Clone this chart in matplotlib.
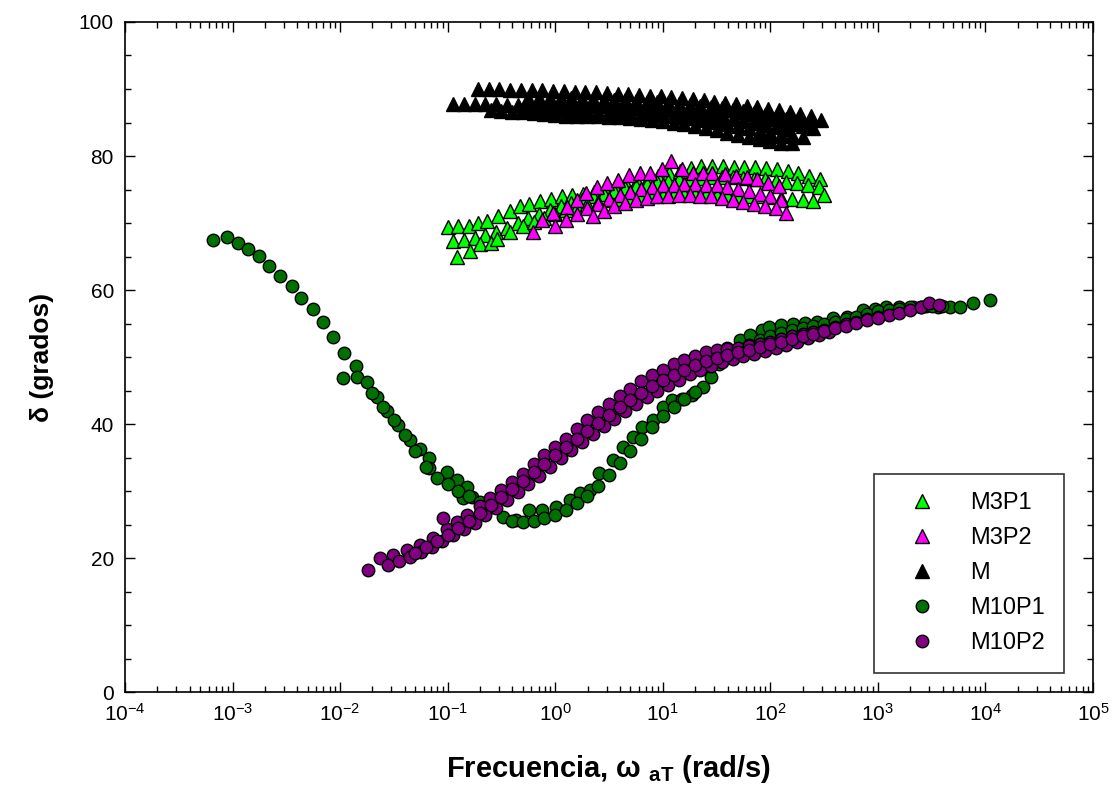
import numpy as np
import matplotlib
matplotlib.use("Agg")
import matplotlib.pyplot as plt

plt.rcParams['font.family'] = ['Liberation Sans', 'DejaVu Sans']
plt.rcParams['mathtext.fontset'] = 'custom'
plt.rcParams['mathtext.rm'] = 'Liberation Sans'
plt.rcParams['mathtext.bf'] = 'Liberation Sans:bold'

# --- data: log10(omega aT) and delta (degrees), one list pair per sweep row ---

# M3P1 (lime triangles)
m3p1_a_lw = [-1.0, -0.9, -0.8, -0.72, -0.63, -0.53, -0.42, -0.33, -0.24, -0.14, -0.04, 0.06, 0.16, 0.26, 0.36,
             0.46, 0.56, 0.66, 0.76, 0.86, 0.96, 1.06, 1.16, 1.26, 1.36, 1.46, 1.56, 1.66, 1.76, 1.86, 1.96,
             2.06, 2.16, 2.26, 2.36, 2.46]
m3p1_a_d = [69.4, 69.5, 69.6, 70.0, 70.3, 71.0, 71.8, 72.6, 72.9, 73.3, 73.6, 74.0, 74.2, 74.4, 74.6,
            75.0, 75.4, 75.8, 76.2, 76.6, 77.0, 77.4, 77.8, 78.2, 78.5, 78.5, 78.5, 78.4, 78.4, 78.3, 78.2,
            78.0, 77.8, 77.5, 77.0, 76.5]
m3p1_b_lw = [-0.95, -0.85, -0.75, -0.65, -0.55, -0.45, -0.35, -0.25, -0.15, -0.05, 0.05, 0.15, 0.25, 0.35,
             0.45, 0.55, 0.65, 0.75, 0.85, 0.95, 1.05, 1.15, 1.25, 1.35, 1.45, 1.55, 1.65, 1.75, 1.85, 1.95,
             2.05, 2.15, 2.25, 2.35, 2.45]
m3p1_b_d = [67.3, 67.5, 67.8, 68.2, 68.7, 69.3, 70.0, 70.7, 71.3, 71.9, 72.5, 73.0, 73.5, 74.0,
            74.4, 74.8, 75.2, 75.5, 75.8, 76.1, 76.3, 76.5, 76.6, 76.7, 76.8, 76.8, 76.8, 76.7, 76.6, 76.5,
            76.3, 76.1, 75.9, 75.6, 75.3]
m3p1_c_lw = [-0.91, -0.79, -0.70, -0.60, -0.54, -0.42, -0.30, -0.2, -0.1, 0.0, 0.1, 0.2, 0.3, 0.4, 0.5,
             0.6, 0.7, 0.8, 0.9, 1.0, 1.1, 1.2, 1.3, 1.4, 1.5, 1.6, 1.7, 1.8, 1.9, 2.0, 2.1, 2.2, 2.3,
             2.4, 2.5]
m3p1_c_d = [65.0, 65.8, 66.9, 67.0, 67.6, 68.7, 69.6, 70.2, 70.8, 71.4, 72.0, 72.4, 72.8, 73.1, 73.4,
            73.6, 73.8, 74.0, 74.1, 74.2, 74.3, 74.3, 74.3, 74.3, 74.2, 74.2, 74.1, 74.0, 74.0, 73.9, 73.8,
            73.6, 73.4, 73.3, 74.2]

# M3P2 (magenta triangles)
m3p2_a_lw = [-0.21, -0.12, -0.02, 0.11, 0.2, 0.29, 0.39, 0.48, 0.58, 0.69, 0.79, 0.88, 0.99, 1.08, 1.18,
             1.28, 1.37, 1.46, 1.58, 1.68, 1.78, 1.88, 1.98, 2.08]
m3p2_a_d = [68.7, 70.4, 71.5, 72.4, 73.4, 74.5, 75.4, 76.0, 76.4, 77.2, 77.5, 77.5, 78.0, 79.3, 78.0,
            77.5, 77.5, 77.5, 77.3, 77.0, 76.8, 76.5, 76.0, 75.5]
m3p2_b_lw = [0.0, 0.1, 0.2, 0.3, 0.4, 0.5, 0.6, 0.7, 0.8, 0.9, 1.0, 1.1, 1.2, 1.3, 1.4, 1.5, 1.6, 1.7,
             1.8, 1.9, 2.0, 2.1]
m3p2_b_d = [69.5, 70.5, 71.4, 72.2, 72.9, 73.6, 74.2, 74.7, 75.1, 75.4, 75.6, 75.7, 75.8, 75.8, 75.7,
            75.6, 75.4, 75.1, 74.8, 74.4, 74.0, 73.5]
m3p2_c_lw = [0.35, 0.45, 0.55, 0.65, 0.75, 0.85, 0.95, 1.05, 1.15, 1.25, 1.35, 1.45, 1.55, 1.65, 1.75,
             1.85, 1.95, 2.05, 2.15]
m3p2_c_d = [71.0, 71.8, 72.5, 73.0, 73.4, 73.7, 74.0, 74.1, 74.2, 74.2, 74.1, 74.0, 73.8, 73.5, 73.2,
            72.9, 72.6, 72.3, 71.5]

# M (black triangles)
m_a_lw = [-0.72, -0.62, -0.52, -0.42, -0.32, -0.22, -0.12, -0.02, 0.08, 0.18, 0.28, 0.38, 0.48, 0.58, 0.68,
          0.78, 0.88, 0.98, 1.08, 1.18, 1.28, 1.38, 1.48, 1.58, 1.68, 1.78, 1.88, 1.98, 2.08, 2.18, 2.28,
          2.38, 2.47]
m_a_d = [90.0, 90.0, 90.0, 89.9, 89.9, 89.8, 89.8, 89.7, 89.7, 89.6, 89.5, 89.5, 89.4, 89.3, 89.2,
         89.1, 89.0, 88.9, 88.8, 88.6, 88.5, 88.3, 88.1, 87.9, 87.7, 87.5, 87.3, 87.0, 86.8, 86.5, 86.2,
         85.9, 85.3]
m_b_lw = [-0.95, -0.85, -0.75, -0.65, -0.55, -0.45, -0.35, -0.25, -0.15, -0.05, 0.05, 0.15, 0.25, 0.35,
          0.45, 0.55, 0.65, 0.75, 0.85, 0.95, 1.05, 1.15, 1.25, 1.35, 1.45, 1.55, 1.65, 1.75, 1.85, 1.95,
          2.05, 2.15]
m_b_d = [87.8, 87.8, 87.8, 87.7, 87.7, 87.6, 87.6, 87.5, 87.5, 87.5, 87.5, 87.5, 87.5, 87.4,
         87.4, 87.3, 87.2, 87.1, 87.0, 86.9, 86.8, 86.6, 86.4, 86.2, 86.0, 85.8, 85.5, 85.2, 84.9, 84.6,
         84.3, 84.0]
m_c_lw = [-0.6, -0.5, -0.4, -0.3, -0.2, -0.1, 0.0, 0.1, 0.2, 0.3, 0.4, 0.5, 0.6, 0.7, 0.8, 0.9, 1.0,
          1.1, 1.2, 1.3, 1.4, 1.5, 1.6, 1.7, 1.8, 1.9, 2.0, 2.1, 2.2]
m_c_d = [86.8, 86.7, 86.6, 86.5, 86.4, 86.2, 86.1, 86.0, 86.0, 85.9, 85.9, 85.8, 85.8, 85.6, 85.5,
         85.4, 85.2, 85.0, 84.8, 84.5, 84.2, 83.9, 83.5, 83.2, 82.8, 82.5, 82.2, 82.0, 82.0]
m_d_lw = [1.5, 1.6, 1.7, 1.8, 1.9, 2.0, 2.1, 2.2, 2.3, 2.4, 1.9, 2.0, 2.1, 2.2, 2.3]
m_d_d = [87.0, 86.8, 86.5, 86.2, 85.8, 85.5, 85.1, 84.8, 84.5, 84.2, 83.5, 83.3, 83.0, 83.2, 82.8]
m_e_lw = [-0.25, -0.15, -0.05, 0.05, 0.15, 0.25, 0.35, 0.45, 0.55, 0.65, 0.75, 0.85, 0.95, 1.05, 1.15,
          1.25, 1.35, 1.45, 1.55, 1.65, 1.75, 1.85, 1.95, 2.05, 2.15, 2.25, 2.35]
m_e_d = [88.7, 88.7, 88.6, 88.6, 88.6, 88.5, 88.5, 88.4, 88.4, 88.3, 88.2, 88.1, 88.0, 87.9, 87.8,
         87.6, 87.5, 87.3, 87.1, 86.9, 86.7, 86.4, 86.1, 85.8, 85.5, 85.2, 84.9]
m_f_lw = [-0.3, -0.2, -0.1, 0.0, 0.1, 0.2, 0.3, 0.4, 0.5, 0.6, 0.7, 0.8, 0.9, 1.0, 1.1, 1.2, 1.3, 1.4,
          1.5, 1.6, 1.7, 1.8, 1.9, 2.0, 2.1]
m_f_d = [87.0, 86.9, 86.9, 86.8, 86.8, 86.7, 86.7, 86.6, 86.6, 86.5, 86.4, 86.3, 86.2, 86.1, 86.0, 85.8,
         85.6, 85.4, 85.1, 84.8, 84.5, 84.2, 83.8, 83.5, 83.2]

# M10P1 (dark green circles)
m10p1_a_lw = [-3.18, -3.05, -2.95, -2.86, -2.75, -2.66, -2.56, -2.45, -2.36, -2.25, -2.16, -2.07, -1.96,
              -1.85, -1.97, -1.84, -1.75, -1.66, -1.56, -1.46, -1.35, -1.26, -1.17, -1.17, -1.01, -0.91,
              -0.82, -0.86, -0.77]
m10p1_a_d = [67.5, 67.9, 67.0, 66.1, 65.1, 63.6, 62.1, 60.6, 58.8, 57.2, 55.2, 53.0, 50.6,
             48.7, 46.9, 47.0, 46.3, 44.0, 41.9, 39.9, 37.6, 36.3, 34.9, 33.4, 32.8, 31.6,
             30.6, 29.0, 29.1]
m10p1_b_lw = [-1.70, -1.60, -1.50, -1.40, -1.30, -1.20, -1.10, -1.0, -0.9, -0.8, -0.7, -0.6]
m10p1_b_d = [44.6, 42.6, 40.6, 38.4, 36.0, 33.6, 32.0, 31.0, 30.0, 29.2, 28.4, 27.6]
m10p1_c_lw = [-0.60, -0.49, -0.36, -0.24, -0.12, 0.01, 0.14, 0.23, 0.32, 0.41, 0.54, 0.63, 0.72, 0.81,
              0.91, 1.0, 1.09, 1.18, 1.27, 1.37, 1.45, 1.52, 1.6, 1.72, 1.81, 1.92, 1.99, 2.1, 2.21, 2.32,
              2.43, 2.58, 2.71, 2.86, 2.97, 3.08, 3.2, 3.33, 3.45, 3.56, 3.67, 3.76, 3.88, 4.04]
m10p1_c_d = [28.0, 26.1, 25.7, 27.2, 27.2, 27.6, 28.7, 29.7, 30.1, 32.7, 34.6, 36.6, 38.0, 39.6,
             40.6, 42.5, 43.6, 43.8, 44.3, 45.5, 47.0, 49.0, 51.3, 52.5, 53.3, 54.0, 54.5, 54.8, 55.0, 55.1,
             55.2, 55.8, 56.0, 57.0, 57.2, 57.4, 57.5, 57.5, 57.6, 57.5, 57.5, 57.5, 58.0, 58.5]
m10p1_d_lw = [-0.40, -0.30, -0.20, -0.10, 0.0, 0.1, 0.2, 0.3, 0.4, 0.5, 0.6, 0.7, 0.8, 0.9, 1.0, 1.1,
              1.2, 1.3, 1.6, 1.7, 1.8, 1.9, 2.0, 2.1, 2.2, 2.3, 2.4, 2.5, 2.6, 2.7, 2.8, 2.9, 3.0, 3.1,
              3.2, 3.3, 3.4, 3.5, 3.6]
m10p1_d_d = [25.6, 25.4, 25.6, 25.9, 26.4, 27.2, 28.2, 29.3, 30.8, 32.4, 34.2, 36.0, 37.8, 39.6, 41.2, 42.6,
             43.8, 44.8, 50.0, 51.0, 51.8, 52.5, 53.1, 53.6, 54.0, 54.3, 54.7, 55.0, 55.3, 55.6, 56.0, 56.4,
             56.8, 57.0, 57.2, 57.4, 57.5, 57.6, 57.6]

# M10P2 (purple circles)
m10p2_a_lw = [-1.74, -1.63, -1.51, -1.38, -1.26, -1.14, -1.01, -0.91, -0.82, -0.70, -0.61, -0.50, -0.40,
              -0.30, -0.20, -0.10, 0.0, 0.1, 0.2, 0.3, 0.4, 0.5, 0.6, 0.7, 0.8, 0.9, 1.0, 1.1, 1.2, 1.3,
              1.4, 1.5, 1.6, 1.7, 1.8, 1.9, 2.0, 2.1, 2.2, 2.3, 2.4, 2.5, 2.6, 2.7, 2.8, 2.9, 3.0, 3.1,
              3.2, 3.3, 3.4, 3.48, 3.57, -1.04]
m10p2_a_d = [18.2, 20.0, 20.4, 21.2, 21.9, 23.0, 24.4, 25.4, 26.4, 27.7, 29.0, 30.2, 31.4,
             32.6, 34.0, 35.4, 36.6, 37.8, 39.2, 40.6, 41.8, 43.0, 44.2, 45.3, 46.4, 47.3, 48.1, 48.9, 49.6,
             50.2, 50.7, 51.0, 51.2, 51.4, 51.7, 52.0, 52.3, 52.7, 53.1, 53.5, 53.8, 54.1, 54.5, 54.9,
             55.3, 55.7, 56.0, 56.3, 56.6, 57.0, 57.5, 58.0, 57.8, 26.0]
m10p2_b_lw = [-1.55, -1.45, -1.35, -1.25, -1.15, -1.05, -0.95, -0.85, -0.75, -0.65, -0.55, -0.45, -0.35,
              -0.25, -0.15, -0.05, 0.05, 0.15, 0.25, 0.35, 0.45, 0.55, 0.65, 0.75, 0.85, 0.95, 1.05, 1.15,
              1.25, 1.35, 1.45, 1.55, 1.65, 1.75, 1.85, 1.95, 2.05, 2.15, 2.25, 2.35, 2.45, 2.55]
m10p2_b_d = [19.0, 19.6, 20.2, 20.9, 21.6, 22.5, 23.4, 24.3, 25.3, 26.4, 27.5, 28.7, 29.9,
             31.1, 32.3, 33.6, 34.9, 36.1, 37.3, 38.5, 39.7, 40.8, 41.9, 43.0, 44.0, 44.9, 45.8, 46.6,
             47.4, 48.1, 48.7, 49.2, 49.7, 50.1, 50.5, 50.9, 51.3, 51.8, 52.3, 52.8, 53.3, 53.7]
m10p2_c_lw = [-1.3, -1.2, -1.1, -1.0, -0.9, -0.8, -0.7, -0.6, -0.5, -0.4, -0.3, -0.2, -0.1, 0.0, 0.1, 0.2,
              0.3, 0.4, 0.5, 0.6, 0.7, 0.8, 0.9, 1.0, 1.1, 1.2, 1.3, 1.4, 1.5, 1.6, 1.7, 1.8, 1.9, 2.0,
              2.1, 2.2, 2.3, 2.4, 2.5, 2.6, 2.7, 2.8, 2.9, 3.0]
m10p2_c_d = [20.8, 21.6, 22.5, 23.5, 24.5, 25.6, 26.7, 27.9, 29.1, 30.3, 31.5, 32.8, 34.1, 35.4, 36.6, 37.8,
             39.0, 40.2, 41.4, 42.5, 43.6, 44.7, 45.6, 46.5, 47.3, 48.1, 48.8, 49.4, 49.9, 50.3, 50.7, 51.1,
             51.5, 51.9, 52.3, 52.7, 53.1, 53.5, 53.9, 54.3, 54.7, 55.1, 55.5, 55.8]

x_ticks = [1e-4, 1e-3, 1e-2, 1e-1, 1e0, 1e1, 1e2, 1e3, 1e4, 1e5]
y_ticks = [0, 20, 40, 60, 80, 100]

series = [
    ("M3P1", "^", "#00ff00", 9.5, [(m3p1_a_lw, m3p1_a_d), (m3p1_b_lw, m3p1_b_d), (m3p1_c_lw, m3p1_c_d)]),
    ("M3P2", "^", "#ff00ff", 9.5, [(m3p2_a_lw, m3p2_a_d), (m3p2_b_lw, m3p2_b_d), (m3p2_c_lw, m3p2_c_d)]),
    ("M", "^", "#000000", 9.5, [(m_a_lw, m_a_d), (m_b_lw, m_b_d), (m_c_lw, m_c_d), (m_d_lw, m_d_d),
                               (m_e_lw, m_e_d), (m_f_lw, m_f_d)]),
    ("M10P1", "o", "#007000", 9, [(m10p1_a_lw, m10p1_a_d), (m10p1_b_lw, m10p1_b_d),
                                  (m10p1_c_lw, m10p1_c_d), (m10p1_d_lw, m10p1_d_d)]),
    ("M10P2", "o", "#800080", 9, [(m10p2_a_lw, m10p2_a_d), (m10p2_b_lw, m10p2_b_d),
                                  (m10p2_c_lw, m10p2_c_d)]),
]

fig = plt.figure(figsize=(11.13, 7.97), dpi=100)
ax = fig.add_axes([0.1123, 0.1317, 0.8697, 0.8407])

for name, mk, col, ms, rows in series:
    lw_all = np.concatenate([r[0] for r in rows])
    d_all = np.concatenate([r[1] for r in rows])
    ax.plot(10.0 ** lw_all, d_all, linestyle='none', marker=mk, markersize=ms,
            markerfacecolor=col, markeredgecolor='black', markeredgewidth=1.0, label=name)

ax.set_xscale('log')
ax.set_xticks(x_ticks)
ax.set_xlim(1e-4, 1e5)
ax.set_ylim(0, 100)
ax.set_yticks(y_ticks)
ax.set_yticks(np.arange(0, 101, 5), minor=True)
ax.tick_params(which='both', direction='in', top=True, right=True, labelsize=15, width=1)
ax.tick_params(which='major', length=7, pad=8)
ax.tick_params(which='minor', length=4)
for s in ax.spines.values():
    s.set_linewidth(1.2)

ax.set_xlabel(r'Frecuencia, ω $_{\mathbf{aT}}$ (rad/s)', fontsize=21, fontweight='bold', labelpad=20)
ax.set_ylabel('δ (grados)', fontsize=19, fontweight='bold', labelpad=18)

leg = ax.legend(loc='lower right', bbox_to_anchor=(0.970, 0.028), borderaxespad=0, fontsize=17,
                frameon=True, fancybox=False, edgecolor='black', handlelength=2.46, handletextpad=0.8,
                labelspacing=0.55, borderpad=0.8, numpoints=1)
leg.get_frame().set_linewidth(1.2)

fig.savefig('out.png', dpi=100)
